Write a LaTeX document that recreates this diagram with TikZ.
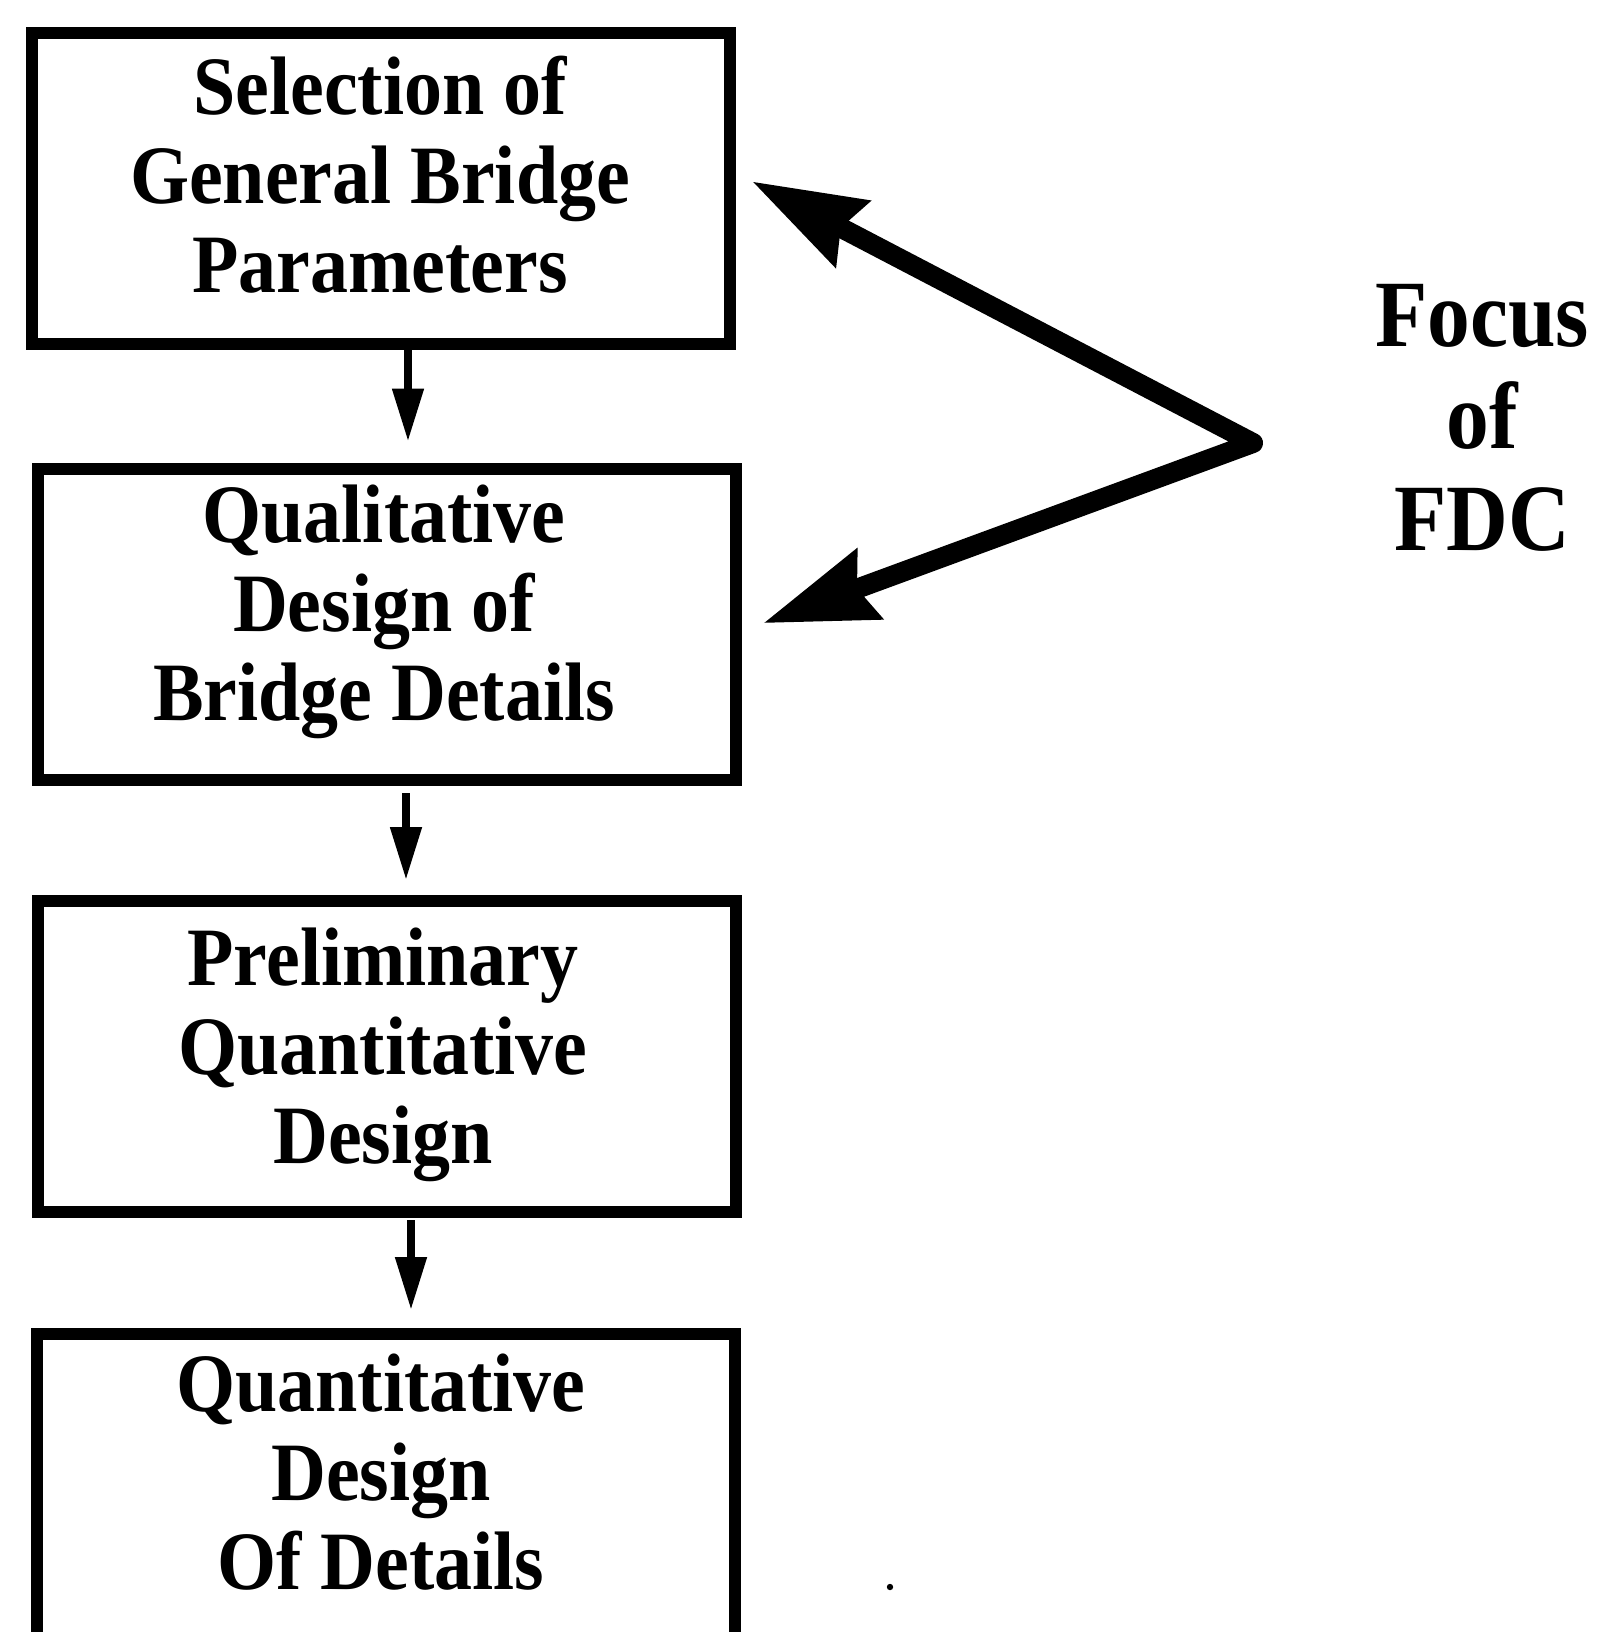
\documentclass[tikz,border=0pt]{standalone}
\usepackage{fontspec}
\setmainfont{Liberation Serif}
\newfontfamily\boxfont{Liberation Serif}[FakeStretch=0.915]
\newfontfamily\focusfont{Liberation Serif}[FakeStretch=0.9]
\usetikzlibrary{arrows.meta,calc}

\begin{document}
\begin{tikzpicture}[x=0.25pt, y=-0.25pt,
  stage/.style={draw, line width=3pt, minimum width=174.5pt,
    minimum height=77.75pt, inner sep=0pt},
  stagetext/.style={anchor=north, align=center, inner sep=0pt,
    font=\boxfont\bfseries\fontsize{20.75pt}{22.25pt}\selectfont},
  flow/.style={line width=2pt, -{Triangle[length=13.25pt, width=7.5pt]}},
  focusarrow/.style={line width=5pt, line join=round,
    {Stealth[length=28pt, width=18pt, inset=3pt]}-{Stealth[length=28pt, width=18pt, inset=3pt]}}
]
\clip (0,0) rectangle (1602,1632);

% process stages
\node[stage] (b1) at (381,188) {};
\node[stage] (b2) at (387,624) {};
\node[stage] (b3) at (387,1056.5) {};
\node[stage] (b4) at (385.5,1489.5) {};

\node[stagetext] (t1) at (380,55) {Selection of\\General Bridge\\Parameters};
\node[stagetext] (t2) at (384,484) {Qualitative\\Design of\\Bridge Details};
\node[stagetext] (t3) at (383,927) {Preliminary\\Quantitative\\Design};
\node[stagetext] (t4) at (381,1353) {Quantitative\\Design\\Of Details};

% side label
\node[anchor=north, align=center, inner sep=0pt,
  font=\focusfont\bfseries\fontsize{23.75pt}{25.5pt}\selectfont]
  (focus) at (1482,283) {Focus\\of\\FDC};

% downward flow between stages
\coordinate (x1) at (408,0);
\coordinate (x2) at (406,0);
\coordinate (x3) at (411,0);
\draw[flow, shorten >=5.25pt] (b1.south -| x1) -- (b2.north -| x1);
\draw[flow, shorten <=1.9pt, shorten >=3.75pt] (b2.south -| x2) -- (b3.north -| x2);
\draw[flow, shorten <=0.5pt, shorten >=4.5pt] (b3.south -| x3) -- (b4.north -| x3);

% focus arrows
\coordinate (apex) at (1253,443);
\draw[focusarrow, shorten <=4.5pt, shorten >=5.6pt]
  ($(b1.east)+(0,-15)$) -- (apex) -- ($(b2.east)+(0,7)$);

\fill (890,1587) circle[radius=0.8pt];
\end{tikzpicture}
\end{document}
